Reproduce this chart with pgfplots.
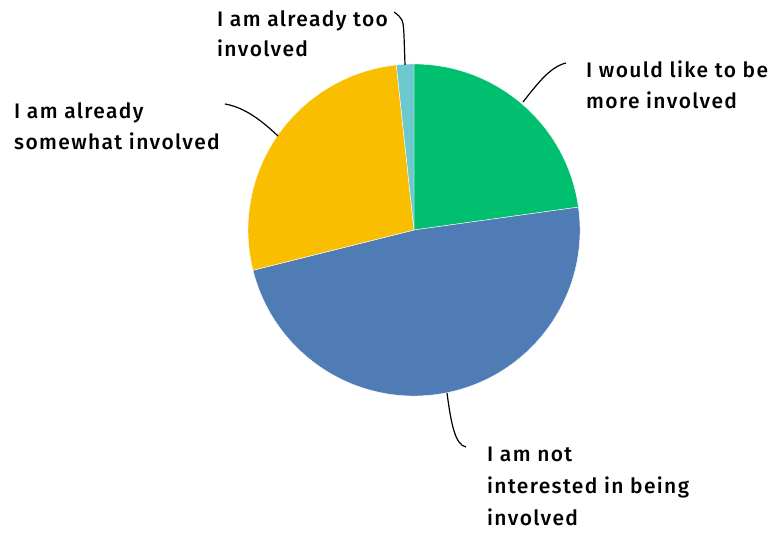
\documentclass[border=0pt]{standalone}
\usepackage{pgfplots}
\usepackage{pgfplotstable}
\pgfplotsset{compat=1.18}
\usepackage{fontspec}
\setmainfont{Fira Sans}[UprightFont=* Medium, LetterSpace=6.5]

\definecolor{pgreen}{HTML}{00BF6F}
\definecolor{pblue}{HTML}{507CB6}
\definecolor{pyellow}{HTML}{F9BE00}
\definecolor{pteal}{HTML}{6BC8CD}

% share of answers in percent, clockwise from 12 o'clock
\pgfplotstableread{
share
22.8
48.3
27.2
1.7
}\piedata

\tikzset{lbl/.style={font=\fontsize{21bp}{24bp}\selectfont, text=black, inner sep=0pt, anchor=base west}}

\begin{document}
\begin{tikzpicture}
\pgfplotstablegetelem{0}{share}\of\piedata \pgfmathsetmacro\aA{90-3.6*\pgfplotsretval}
\pgfplotstablegetelem{1}{share}\of\piedata \pgfmathsetmacro\aB{\aA-3.6*\pgfplotsretval}
\pgfplotstablegetelem{2}{share}\of\piedata \pgfmathsetmacro\aC{\aB-3.6*\pgfplotsretval}
\pgfplotstablegetelem{3}{share}\of\piedata \pgfmathsetmacro\aD{\aC-3.6*\pgfplotsretval}
\begin{axis}[
    x=1bp, y=1bp,
    xmin=0, xmax=772, ymin=0, ymax=535,
    axis lines=none,
    clip=false,
]
% keep the full canvas
\path (axis cs:0,0) rectangle (axis cs:772,535);
% slices
\fill[pgreen, draw=white, line width=0.4bp] (axis cs:414,305) -- ++(90:166bp) arc[start angle=90, end angle=\aA, radius=166bp] -- cycle;
\fill[pblue, draw=white, line width=0.4bp] (axis cs:414,305) -- ++(\aA:166bp) arc[start angle=\aA, end angle=\aB, radius=166bp] -- cycle;
\fill[pyellow, draw=white, line width=0.4bp] (axis cs:414,305) -- ++(\aB:166bp) arc[start angle=\aB, end angle=\aC, radius=166bp] -- cycle;
\fill[pteal, draw=white, line width=0.4bp] (axis cs:414,305) -- ++(\aC:166bp) arc[start angle=\aC, end angle=\aD, radius=166bp] -- cycle;

% leader lines
\draw[line width=1.2bp] (axis cs:405,470) -- (axis cs:404,500) .. controls (axis cs:403,516) .. (axis cs:394,523);
\draw[line width=1.2bp] (axis cs:523,433) .. controls (axis cs:538,452) and (axis cs:550,468) .. (axis cs:566,472);
\draw[line width=1.2bp] (axis cs:278,399) .. controls (axis cs:258,418) and (axis cs:242,428) .. (axis cs:225,431);
\draw[line width=1.2bp] (axis cs:447,142) .. controls (axis cs:451,112) and (axis cs:455,90) .. (axis cs:466,88);

% labels
\node[lbl] at (axis cs:217,508) {I am already too};
\node[lbl] at (axis cs:217,478) {involved};
\node[lbl] at (axis cs:586,457) {I would like to be};
\node[lbl] at (axis cs:586,426) {more involved};
\node[lbl] at (axis cs:14,416) {I am already};
\node[lbl] at (axis cs:14,385) {somewhat involved};
\node[lbl] at (axis cs:487,73) {I am not};
\node[lbl] at (axis cs:487,41) {interested in being};
\node[lbl] at (axis cs:487,9) {involved};
\end{axis}
\end{tikzpicture}
\end{document}
